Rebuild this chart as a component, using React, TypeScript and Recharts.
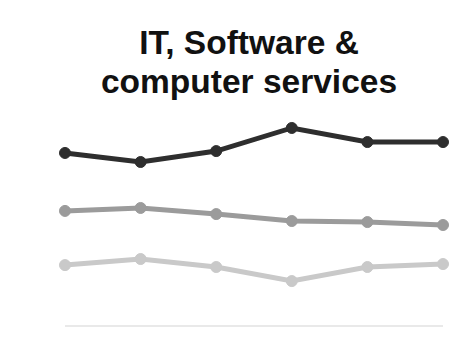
import { LineChart, Line, XAxis, YAxis, ReferenceLine } from 'recharts'

const periods = ['P1', 'P2', 'P3', 'P4', 'P5', 'P6']
const seriesHigh = [82.4, 78.1, 83.3, 94.3, 87.6, 87.6]
const seriesMid = [54.8, 56.2, 53.3, 50.0, 49.5, 48.1]
const seriesLow = [29.0, 31.9, 28.1, 21.4, 28.1, 29.5]

const data = periods.map((p, i) => ({
  period: p,
  high: seriesHigh[i],
  mid: seriesMid[i],
  low: seriesLow[i],
}))

const series = [
  { key: 'low', color: '#c9c9c9' },
  { key: 'mid', color: '#9b9b9b' },
  { key: 'high', color: '#2e2e2e' },
]

export default function App() {
  return (
    <div style={{ position: 'absolute', left: 0, top: 0, width: 461, height: 347, background: '#fff' }}>
      <LineChart width={461} height={347} data={data} margin={{ top: 116, right: 18, bottom: 21, left: 65 }}>
        <XAxis dataKey="period" hide />
        <YAxis hide domain={[0, 100]} />
        <ReferenceLine y={0} stroke="#e2e2e2" strokeWidth={1.5} />
        {series.map((s) => (
          <Line
            key={s.key}
            dataKey={s.key}
            stroke={s.color}
            strokeWidth={5}
            dot={{ r: 5.5, fill: s.color, stroke: s.color, strokeWidth: 1 }}
            activeDot={false}
            isAnimationActive={false}
          />
        ))}
      </LineChart>
      <div
        style={{
          position: 'absolute',
          left: 0,
          top: 23,
          width: 498,
          textAlign: 'center',
          fontFamily: '"Liberation Sans", Arial, sans-serif',
          fontWeight: 'bold',
          fontSize: 33.5,
          lineHeight: '39px',
          color: '#111',
        }}
      >
        IT, Software &amp;
        <br />
        computer services
      </div>
    </div>
  )
}
